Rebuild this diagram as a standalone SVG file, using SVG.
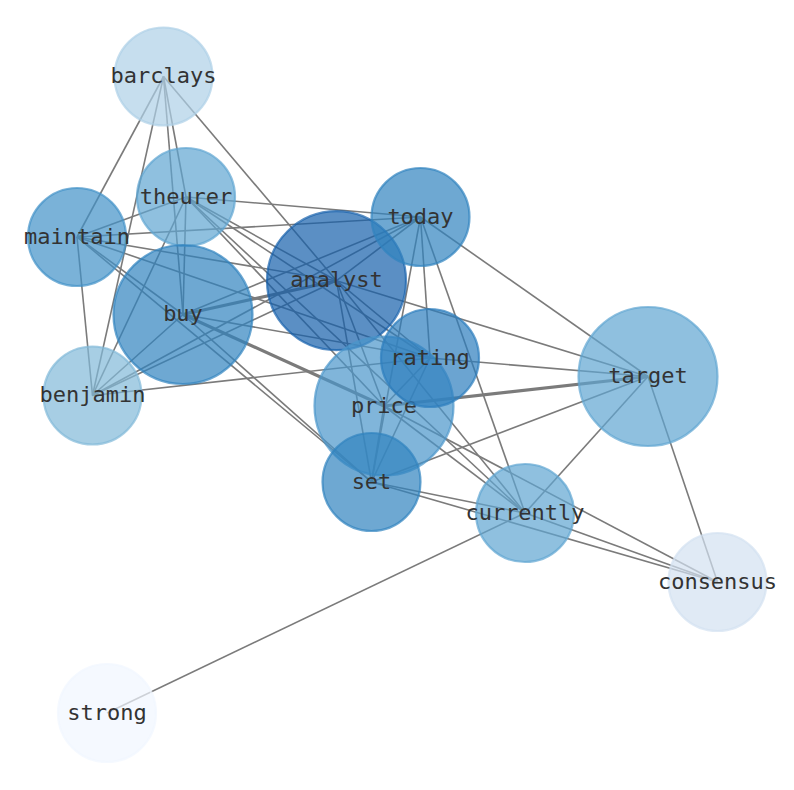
<svg xmlns="http://www.w3.org/2000/svg" width="794" height="790" viewBox="0 0 794 790">
<style>
.e{stroke:#7b7b7b;stroke-width:1.6;fill:none}
.t{stroke-width:3.2}
.n circle{fill-opacity:0.7;stroke-opacity:0.7;stroke-width:2.2}
.n text{font-family:"DejaVu Sans Mono",monospace;font-size:22px;fill:#333;text-anchor:middle}
</style>
<rect width="794" height="790" fill="#fff"/>
<g id="edges">
<line class="e" x1="163.5" y1="76.5" x2="77" y2="237"/>
<line class="e" x1="163.5" y1="76.5" x2="92.5" y2="395.5"/>
<line class="e" x1="163.5" y1="76.5" x2="186" y2="197"/>
<line class="e" x1="163.5" y1="76.5" x2="183" y2="314.5"/>
<line class="e" x1="163.5" y1="76.5" x2="336.5" y2="280.7"/>
<line class="e" x1="186" y1="197" x2="77" y2="237"/>
<line class="e" x1="186" y1="197" x2="420.5" y2="217"/>
<line class="e" x1="186" y1="197" x2="92.5" y2="395.5"/>
<line class="e" x1="186" y1="197" x2="183" y2="314.5"/>
<line class="e" x1="186" y1="197" x2="336.5" y2="280.7"/>
<line class="e" x1="186" y1="197" x2="430" y2="358"/>
<line class="e" x1="186" y1="197" x2="384" y2="406"/>
<line class="e" x1="186" y1="197" x2="525" y2="513"/>
<line class="e" x1="77" y1="237" x2="420.5" y2="217"/>
<line class="e" x1="77" y1="237" x2="92.5" y2="395.5"/>
<line class="e" x1="77" y1="237" x2="336.5" y2="280.7"/>
<line class="e" x1="77" y1="237" x2="430" y2="358"/>
<line class="e" x1="77" y1="237" x2="183" y2="314.5"/>
<line class="e" x1="77" y1="237" x2="371.5" y2="482"/>
<line class="e t" x1="183" y1="314.5" x2="336.5" y2="280.7"/>
<line class="e" x1="183" y1="314.5" x2="420.5" y2="217"/>
<line class="e t" x1="183" y1="314.5" x2="384" y2="406"/>
<line class="e" x1="183" y1="314.5" x2="371.5" y2="482"/>
<line class="e" x1="183" y1="314.5" x2="92.5" y2="395.5"/>
<line class="e" x1="183" y1="314.5" x2="430" y2="358"/>
<line class="e" x1="92.5" y1="395.5" x2="336.5" y2="280.7"/>
<line class="e" x1="92.5" y1="395.5" x2="420.5" y2="217"/>
<line class="e" x1="92.5" y1="395.5" x2="430" y2="358"/>
<line class="e" x1="336.5" y1="280.7" x2="420.5" y2="217"/>
<line class="e" x1="336.5" y1="280.7" x2="430" y2="358"/>
<line class="e" x1="336.5" y1="280.7" x2="384" y2="406"/>
<line class="e" x1="336.5" y1="280.7" x2="371.5" y2="482"/>
<line class="e" x1="336.5" y1="280.7" x2="525" y2="513"/>
<line class="e" x1="336.5" y1="280.7" x2="648" y2="376.5"/>
<line class="e" x1="420.5" y1="217" x2="430" y2="358"/>
<line class="e" x1="420.5" y1="217" x2="371.5" y2="482"/>
<line class="e" x1="420.5" y1="217" x2="525" y2="513"/>
<line class="e" x1="420.5" y1="217" x2="648" y2="376.5"/>
<line class="e" x1="430" y1="358" x2="384" y2="406"/>
<line class="e" x1="430" y1="358" x2="371.5" y2="482"/>
<line class="e" x1="430" y1="358" x2="648" y2="376.5"/>
<line class="e" x1="384" y1="406" x2="371.5" y2="482"/>
<line class="e t" x1="384" y1="406" x2="648" y2="376.5"/>
<line class="e" x1="384" y1="406" x2="525" y2="513"/>
<line class="e" x1="384" y1="406" x2="717.5" y2="582"/>
<line class="e" x1="371.5" y1="482" x2="648" y2="376.5"/>
<line class="e" x1="371.5" y1="482" x2="525" y2="513"/>
<line class="e" x1="371.5" y1="482" x2="717.5" y2="582"/>
<line class="e" x1="525" y1="513" x2="648" y2="376.5"/>
<line class="e" x1="525" y1="513" x2="717.5" y2="582"/>
<line class="e" x1="525" y1="513" x2="107" y2="713"/>
<line class="e" x1="648" y1="376.5" x2="717.5" y2="582"/>
</g>
<g id="barclays" class="n"><circle cx="163.5" cy="76.5" r="49" fill="#aed0e7" stroke="#aed0e7"/><text x="163.5" y="83">barclays</text></g>
<g id="theurer" class="n"><circle cx="186" cy="197" r="49" fill="#5fa5d1" stroke="#5fa5d1"/><text x="186" y="203.5">theurer</text></g>
<g id="maintain" class="n"><circle cx="77" cy="237" r="49" fill="#4191c7" stroke="#4191c7"/><text x="77" y="243.5">maintain</text></g>
<g id="buy" class="n"><circle cx="183" cy="314.5" r="69.5" fill="#3183bf" stroke="#3183bf"/><text x="183" y="321">buy</text></g>
<g id="benjamin" class="n"><circle cx="92.5" cy="395.5" r="49" fill="#81b9d8" stroke="#81b9d8"/><text x="92.5" y="402">benjamin</text></g>
<g id="analyst" class="n"><circle cx="336.5" cy="280.7" r="69.5" fill="#155fab" stroke="#155fab"/><text x="336.5" y="287">analyst</text></g>
<g id="today" class="n"><circle cx="420.5" cy="217" r="49" fill="#3183bf" stroke="#3183bf"/><text x="420.5" y="223.5">today</text></g>
<g id="price" class="n"><circle cx="384" cy="406" r="69.5" fill="#4a95ca" stroke="#4a95ca"/><text x="384" y="413">price</text></g>
<g id="rating" class="n"><circle cx="430" cy="358" r="49" fill="#2c7ebd" stroke="#2c7ebd"/><text x="430" y="364.5">rating</text></g>
<g id="set" class="n"><circle cx="371.5" cy="482" r="49" fill="#3183bf" stroke="#3183bf"/><text x="371.5" y="488.5">set</text></g>
<g id="target" class="n"><circle cx="648" cy="376.5" r="69.5" fill="#5fa5d1" stroke="#5fa5d1"/><text x="648" y="383">target</text></g>
<g id="currently" class="n"><circle cx="525" cy="513" r="49" fill="#5fa5d1" stroke="#5fa5d1"/><text x="525" y="519.5">currently</text></g>
<g id="consensus" class="n"><circle cx="717.5" cy="582" r="49" fill="#d3e1f1" stroke="#d3e1f1"/><text x="717.5" y="588.5">consensus</text></g>
<g id="strong" class="n"><circle cx="107" cy="713" r="49" fill="#f1f6ff" stroke="#f1f6ff"/><text x="107" y="719.5">strong</text></g>
</svg>
